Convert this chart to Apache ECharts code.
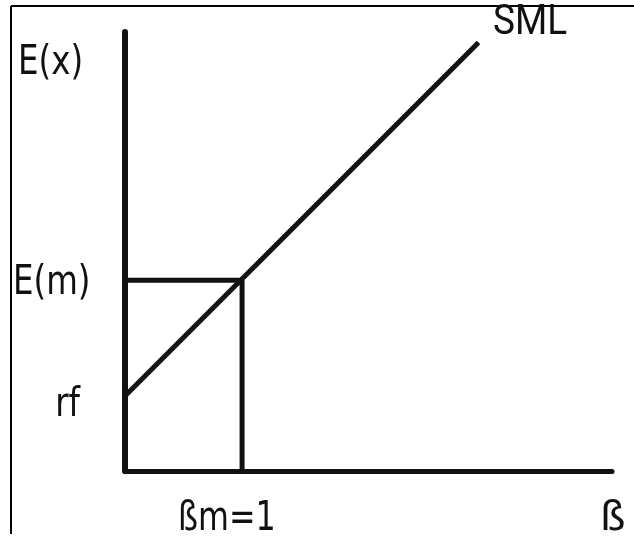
<!DOCTYPE html>
<html>
<head>
<meta charset="utf-8">
<script src="https://cdn.jsdelivr.net/npm/echarts@6/dist/echarts.min.js"></script>
<style>
  html, body { margin: 0; padding: 0; background: #fff; }
  #main { width: 634px; height: 540px; }
</style>
</head>
<body>
<div id="main"></div>
<script>
// SML values (beta on x, expected return on y)
const betaRange = [0, 4.16];
const returnRange = [0, 3.75];
const smlBeta = [0, 3.02];
const smlReturn = [0.64, 3.66];
const riskFree = 0.64;
const marketReturn = 1.63;
const marketBeta = 1;

const labelFont = "'DejaVu Sans Condensed', 'Liberation Sans Narrow', sans-serif";
const ink = '#111';

const smlData = smlBeta.map((b, i) => [b, smlReturn[i]]);
const guideData = [[0, marketReturn], [marketBeta, marketReturn], [marketBeta, 0]];

// text drawn a bit narrower, the source lettering is condensed
function txt(text, x, y, align, sx, font) {
    return {
        type: 'text', x: x, y: y,
        scaleX: sx || 0.88, originX: 0, originY: 0,
        style: {
            text: text, fill: ink, font: font || ('41px ' + labelFont),
            align: align || 'left', verticalAlign: 'middle'
        }
    };
}

const myChart = echarts.init(document.getElementById('main'));
myChart.setOption({
    animation: false,
    backgroundColor: '#fff',
    grid: { left: 125, top: 32, right: 22, bottom: 69 },
    xAxis: {
        type: 'value', min: betaRange[0], max: betaRange[1],
        axisLine: { show: true, lineStyle: { color: ink, width: 5 } },
        axisTick: { show: false }, axisLabel: { show: false }, splitLine: { show: false }
    },
    yAxis: {
        type: 'value', min: returnRange[0], max: returnRange[1],
        axisLine: { show: true, lineStyle: { color: ink, width: 6 } },
        axisTick: { show: false }, axisLabel: { show: false }, splitLine: { show: false }
    },
    series: [
        {
            type: 'line', data: smlData, symbol: 'none',
            lineStyle: { color: ink, width: 5 }
        },
        {
            type: 'line', data: guideData, symbol: 'none',
            lineStyle: { color: ink, width: 5 }
        }
    ],
    graphic: [
        // partial frame
        { type: 'line', shape: { x1: 11, y1: 6, x2: 634, y2: 6 }, style: { stroke: '#000', lineWidth: 2 } },
        { type: 'line', shape: { x1: 11, y1: 6, x2: 11, y2: 534 }, style: { stroke: '#000', lineWidth: 2 } },
        txt('E(x)', 18, 63),
        txt('E(m)', 13, 283),
        txt('rf', 80, 405, 'right'),
        txt('SML', 493, 23, 'left', 0.88, '42px Roboto, sans-serif'),
        txt('ßm=' + marketBeta, 178, 519, 'left', 0.86),
        txt('ß', 600, 519, 'left', 1.1)
    ]
});
</script>
</body>
</html>
